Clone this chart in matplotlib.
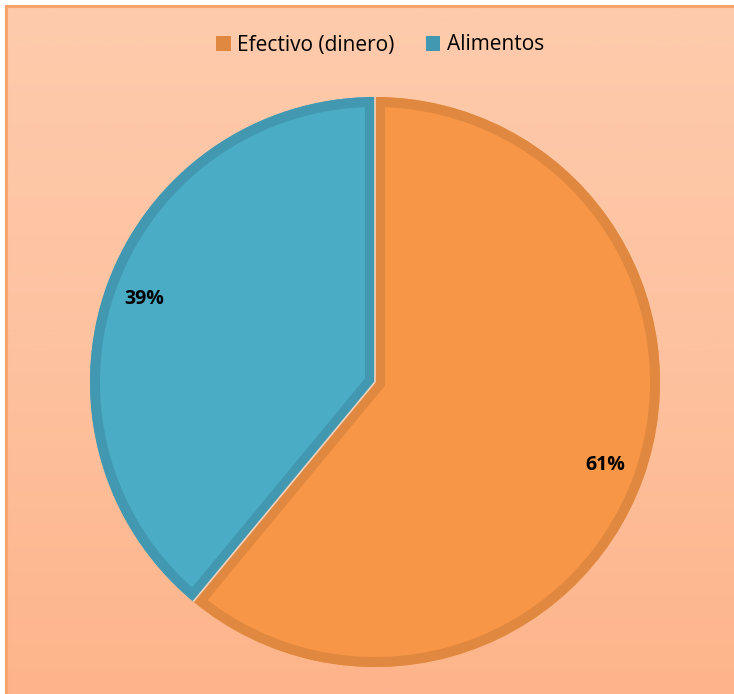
import numpy as np
import matplotlib
matplotlib.use("Agg")
import matplotlib.pyplot as plt
from matplotlib.patches import Wedge, Patch
from matplotlib.colors import LinearSegmentedColormap

# Data
categories = ["Efectivo (dinero)", "Alimentos"]
values = [61, 39]
fill_colors = ["#F79646", "#4BACC6"]
edge_colors = ["#E0883F", "#4398B1"]

W, H = 734, 694
DPI = 100
FONT = ["Open Sans", "DejaVu Sans"]
fig = plt.figure(figsize=(W / DPI, H / DPI), dpi=DPI, facecolor="white")

# Background panel with a vertical peach gradient and an orange frame on top/left
bg = fig.add_axes([6 / W, 0, 1 - 6 / W, 1 - 6 / H])
bg.set_axis_off()
grad = np.linspace(0, 1, 256).reshape(-1, 1)
cmap = LinearSegmentedColormap.from_list("peach", ["#FDCBAC", "#FDC2A0", "#FEB48A"])
bg.imshow(grad, aspect="auto", cmap=cmap, extent=[0, 1, 0, 1], origin="upper")
bg.set_xlim(0, 1)
bg.set_ylim(0, 1)
fig.add_artist(plt.Line2D([5.5 / W, 1], [1 - 5.5 / H, 1 - 5.5 / H], color="#F9A46A", lw=2.2))
fig.add_artist(plt.Line2D([5.5 / W, 5.5 / W], [0, 1 - 5.5 / H], color="#F9A46A", lw=2.2))

# Pie axes
cx, cy, R = 375, 382, 285
ax = fig.add_axes([(cx - R) / W, (H - cy - R) / H, 2 * R / W, 2 * R / H])
ax.set_axis_off()

wedges, texts, autotexts = ax.pie(
    values,
    colors=fill_colors,
    startangle=90,
    counterclock=False,
    radius=1,
    autopct="%d%%",
    pctdistance=0.86,
    wedgeprops=dict(linewidth=0),
    textprops=dict(fontsize=14, fontweight="bold", color="black", family=FONT),
)
ax.set_xlim(-1, 1)
ax.set_ylim(-1, 1)
ax.set_aspect("equal")

# Inner darker rim on every slice, clipped to the slice itself
border_px = 10
for w, ec in zip(wedges, edge_colors):
    rim = Wedge(w.center, w.r, w.theta1, w.theta2, facecolor="none",
                edgecolor=ec, linewidth=2 * border_px * 72 / DPI, zorder=2)
    ax.add_patch(rim)
    rim.set_clip_path(w)

# Thin light separators between slices
for w in wedges:
    ang = np.deg2rad(w.theta1)
    ax.plot([0, np.cos(ang)], [0, np.sin(ang)], color="#F3D2BC", lw=1.2,
            solid_capstyle="butt", zorder=3)

for t in autotexts:
    t.set_zorder(4)

# Legend
handles = [Patch(facecolor=c, edgecolor="none") for c in edge_colors]
fig.legend(handles, categories, loc="center", ncol=2,
           bbox_to_anchor=(380 / W, 1 - 45 / H), frameon=False,
           prop=dict(family=FONT, size=15),
           handlelength=0.7, handleheight=0.7, handletextpad=0.3,
           columnspacing=1.5)

fig.savefig("out.png", dpi=DPI)
